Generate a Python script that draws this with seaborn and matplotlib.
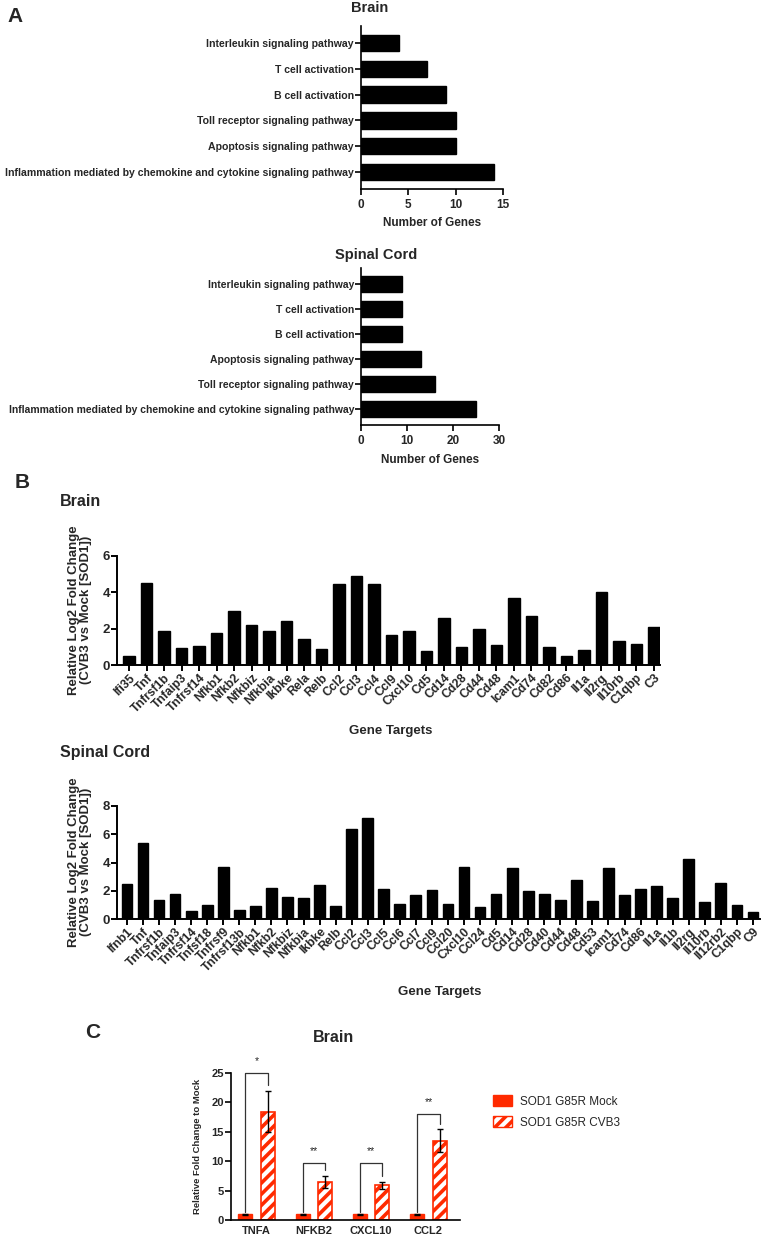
import numpy as np
import pandas as pd
import matplotlib
matplotlib.use("Agg")
import matplotlib.pyplot as plt
import seaborn as sns
from matplotlib.patches import Patch

# ---------------- data ----------------
# Panel A
pathways_brain = ["Interleukin signaling pathway", "T cell activation", "B cell activation",
                  "Toll receptor signaling pathway", "Apoptosis signaling pathway",
                  "Inflammation mediated by chemokine and cytokine signaling pathway"]
ngenes_brain = [4, 7, 9, 10, 10, 14]
pathways_spinal = ["Interleukin signaling pathway", "T cell activation", "B cell activation",
                   "Apoptosis signaling pathway", "Toll receptor signaling pathway",
                   "Inflammation mediated by chemokine and cytokine signaling pathway"]
ngenes_spinal = [9, 9, 9, 13, 16, 25]

# Panel B
genes_brain = ["Ifi35", "Tnf", "Tnfrsf1b", "Tnfaip3", "Tnfrsf14", "Nfkb1", "Nfkb2", "Nfkbiz",
               "Nfkbia", "Ikbke", "Rela", "Relb", "Ccl2", "Ccl3", "Ccl4", "Ccl9", "Cxcl10",
               "Cd5", "Cd14", "Cd28", "Cd44", "Cd48", "Icam1", "Cd74", "Cd82", "Cd86",
               "Il1a", "Il2rg", "Il10rb", "C1qbp", "C3"]
lfc_brain = [0.50, 4.50, 1.85, 0.92, 1.05, 1.74, 2.97, 2.18, 1.89, 2.42, 1.45, 0.86,
             4.46, 4.92, 4.46, 1.63, 1.89, 0.77, 2.59, 1.01, 1.98, 1.12, 3.69, 2.70,
             1.01, 0.48, 0.81, 4.02, 1.30, 1.14, 2.11]
genes_spinal = ["Ifnb1", "Tnf", "Tnfrsf1b", "Tnfaip3", "Tnfrsf14", "Tnfsf18", "Tnfrsf9",
                "Tnfrsf13b", "Nfkb1", "Nfkb2", "Nfkbiz", "Nfkbia", "Ikbke", "Relb", "Ccl2",
                "Ccl3", "Ccl5", "Ccl6", "Ccl7", "Ccl9", "Ccl20", "Cxcl10", "Ccl24", "Cd5",
                "Cd14", "Cd28", "Cd40", "Cd44", "Cd48", "Cd53", "Icam1", "Cd74", "Cd86",
                "Il1a", "Il1b", "Il2rg", "Il10rb", "Il12rb2", "C1qbp", "C9"]
lfc_spinal = [2.47, 5.36, 1.36, 1.76, 0.59, 0.99, 3.65, 0.64, 0.89, 2.19, 1.53, 1.46,
              2.40, 0.89, 6.35, 7.15, 2.09, 1.04, 1.67, 2.05, 1.06, 3.65, 0.85, 1.79,
              3.60, 2.00, 1.76, 1.36, 2.78, 1.29, 3.60, 1.72, 2.12, 2.33, 1.48, 4.26,
              1.20, 2.54, 0.99, 0.47]

# Panel C
targets_c = ["TNFA", "NFKB2", "CXCL10", "CCL2"]
conditions_c = ["SOD1 G85R Mock", "SOD1 G85R CVB3"]
mock_mean = [1.0, 1.0, 1.0, 1.0]
mock_err = [0.1, 0.1, 0.08, 0.1]
cvb3_mean = [18.4, 6.5, 5.9, 13.5]
cvb3_err = [3.5, 1.0, 0.6, 1.9]
sig_labels = ["*", "**", "**", "**"]
bracket_y = [25.0, 9.7, 9.7, 18.1]

# ---------------- style ----------------
sns.set_style("ticks")
plt.rcParams["font.family"] = ["Liberation Sans", "DejaVu Sans"]
plt.rcParams["font.weight"] = "bold"
plt.rcParams["axes.labelweight"] = "bold"
plt.rcParams["hatch.linewidth"] = 2.6
RED = "#ff2a00"
W, H = 768, 1240

fig = plt.figure(figsize=(W / 100, H / 100), dpi=100)


def rect(l, t, r, b):
    return [l / W, 1 - b / H, (r - l) / W, (b - t) / H]


def ftext(x, y, s, **kw):
    return fig.text(x / W, 1 - y / H, s, **kw)


def style_axes(ax, lw=1.4):
    sns.despine(ax=ax)
    for sp in ("left", "bottom"):
        ax.spines[sp].set_linewidth(lw)
        ax.spines[sp].set_color("black")
    ax.tick_params(direction="out", length=4, width=lw, color="black")
    ax.set_xlabel("")
    ax.set_ylabel("")


# ---------------- Panel A ----------------
def pathway_panel(box, labels, vals, xmax, xticks, fs):
    ax = fig.add_axes(rect(*box))
    df = pd.DataFrame({"pathway": labels, "n": vals})
    sns.barplot(data=df, x="n", y="pathway", orient="h", color="black",
                width=0.64, ax=ax, saturation=1)
    for p in ax.patches:
        p.set_edgecolor("black")
    style_axes(ax, 1.2)
    ax.set_xlim(0, xmax)
    ax.set_ylim(len(labels) - 0.34, -0.66)
    ax.set_xticks(xticks)
    ax.tick_params(axis="y", labelsize=fs, length=4, pad=1)
    ax.tick_params(axis="x", labelsize=8.5)
    for t in ax.get_yticklabels() + ax.get_xticklabels():
        t.set_fontweight("bold")
    return ax


pathway_panel((361, 26, 503, 189), pathways_brain, ngenes_brain, 15, [0, 5, 10, 15], 7.6)
pathway_panel((361, 268, 499, 425), pathways_spinal, ngenes_spinal, 30, [0, 10, 20, 30], 7.5)

ftext(7, 17, "A", fontsize=15, fontweight="bold", ha="left", va="center")
ftext(370, 8, "Brain", fontsize=10.5, fontweight="bold", ha="center", va="center")
ftext(432, 223, "Number of Genes", fontsize=8.5, fontweight="bold", ha="center", va="center")
ftext(376, 255, "Spinal Cord", fontsize=10.5, fontweight="bold", ha="center", va="center")
ftext(430, 460, "Number of Genes", fontsize=8.5, fontweight="bold", ha="center", va="center")


# ---------------- Panel B ----------------
def gene_panel(box, genes, vals, ymax, left_pad, right_pad):
    ax = fig.add_axes(rect(*box))
    df = pd.DataFrame({"gene": genes, "lfc": vals})
    sns.barplot(data=df, x="gene", y="lfc", color="black", width=0.67, ax=ax, saturation=1)
    for p in ax.patches:
        p.set_edgecolor("black")
    style_axes(ax, 1.4)
    ax.set_ylim(0, ymax)
    ax.set_yticks(np.arange(0, ymax + 1, 2))
    ax.set_xlim(-left_pad, len(genes) - 1 + right_pad)
    ax.tick_params(axis="y", labelsize=9.5, pad=1)
    ax.tick_params(axis="x", labelsize=8.7, pad=1)
    plt.setp(ax.get_xticklabels(), rotation=45, ha="right", rotation_mode="anchor",
             fontweight="bold")
    plt.setp(ax.get_yticklabels(), fontweight="bold")
    return ax


gene_panel((117, 556, 660, 665), genes_brain, lfc_brain, 6, 0.69, 0.35)
gene_panel((117, 806, 760, 919), genes_spinal, lfc_spinal, 8, 0.62, 0.44)

ftext(15, 483, "B", fontsize=15, fontweight="bold", ha="left", va="center")
ftext(60, 502, "Brain", fontsize=11.5, fontweight="bold", ha="left", va="center")
ftext(60, 753, "Spinal Cord", fontsize=11.5, fontweight="bold", ha="left", va="center")
ylab = "Relative Log2 Fold Change\n(CVB3 vs Mock [SOD1])"
ftext(80, 610, ylab, fontsize=9.5, fontweight="bold", rotation=90, ha="center",
      va="center", multialignment="center", linespacing=1.0)
ftext(80, 862, ylab, fontsize=9.5, fontweight="bold", rotation=90, ha="center",
      va="center", multialignment="center", linespacing=1.0)
ftext(391, 731, "Gene Targets", fontsize=9.5, fontweight="bold", ha="center", va="center")
ftext(440, 992, "Gene Targets", fontsize=9.5, fontweight="bold", ha="center", va="center")

# ---------------- Panel C ----------------
axc = fig.add_axes(rect(231, 1073, 460, 1220))
dfc = pd.DataFrame({
    "target": targets_c * 2,
    "condition": [conditions_c[0]] * 4 + [conditions_c[1]] * 4,
    "value": mock_mean + cvb3_mean,
})
sns.barplot(data=dfc, x="target", y="value", hue="condition", hue_order=conditions_c,
            palette={conditions_c[0]: RED, conditions_c[1]: RED}, width=0.78, gap=0.38,
            ax=axc, saturation=1, legend=False)

means = {0: mock_mean, 1: cvb3_mean}
errs = {0: mock_err, 1: cvb3_err}
centers = {0: [None] * 4, 1: [None] * 4}
for p in axc.patches:
    cx = p.get_x() + p.get_width() / 2
    idx = int(round(cx))
    h = 0 if cx < idx else 1
    centers[h][idx] = cx
    if h == 1:
        p.set_facecolor("white")
        p.set_edgecolor(RED)
        p.set_hatch("///")
        p.set_linewidth(1.2)
    else:
        p.set_facecolor(RED)
        p.set_edgecolor(RED)

for h in (0, 1):
    axc.errorbar(centers[h], means[h], yerr=errs[h], fmt="none", ecolor="black",
                 elinewidth=1.0, capsize=2.5, capthick=1.0, zorder=5)

for i in range(4):
    x0, x1 = centers[0][i], centers[1][i]
    yb = bracket_y[i]
    y_left = mock_mean[i] + mock_err[i] + 0.2
    y_right = cvb3_mean[i] + cvb3_err[i] + 1.0
    axc.plot([x0, x0, x1, x1], [y_left, yb, yb, y_right], color="#333333", lw=0.9,
             clip_on=False, zorder=4)
    axc.text((x0 + x1) / 2, yb + 2.0, sig_labels[i], ha="center", va="center",
             fontsize=7.5, fontweight="normal", clip_on=False)

style_axes(axc, 1.2)
axc.set_ylim(0, 25)
axc.set_yticks([0, 5, 10, 15, 20, 25])
axc.set_xlim(-0.445, 3.55)
axc.tick_params(axis="both", labelsize=8, pad=1)
axc.tick_params(axis="x", length=0, pad=4)
plt.setp(axc.get_xticklabels() + axc.get_yticklabels(), fontweight="bold")

handles = [Patch(facecolor=RED, edgecolor=RED, label=conditions_c[0]),
           Patch(facecolor="white", edgecolor=RED, hatch="///", label=conditions_c[1])]
leg = axc.legend(handles=handles, loc="center left", frameon=False,
                 bbox_to_anchor=(487 / W, 1 - 1112 / H), bbox_transform=fig.transFigure,
                 prop={"size": 8.5, "weight": "normal"}, handlelength=1.6,
                 handleheight=1.0, handletextpad=0.7, labelspacing=0.75, borderpad=0)

ftext(93, 1032, "C", fontsize=15, fontweight="bold", ha="center", va="center")
ftext(334, 1037, "Brain", fontsize=11.5, fontweight="bold", ha="center", va="center")
ftext(197, 1146, "Relative Fold Change to Mock", fontsize=6.8, fontweight="bold",
      rotation=90, ha="center", va="center")

fig.savefig("out.png", dpi=100)
